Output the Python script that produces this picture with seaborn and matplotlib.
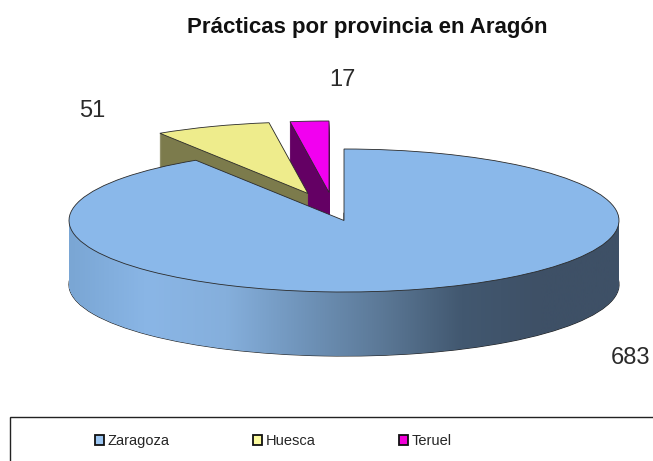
import numpy as np
import matplotlib
matplotlib.use("Agg")
import matplotlib.pyplot as plt
import matplotlib.patches as mpatches
from matplotlib.path import Path
import seaborn as sns

# ======= DATA =======
provinces = ["Zaragoza", "Huesca", "Teruel"]
practices = [683, 51, 17]
title = "Prácticas por provincia en Aragón"

top_colors = ["#8ab8ea", "#eeec8c", "#f200f0"]
side_colors = ["#6f8fb3", "#7c7b4c", "#640064"]
legend_colors = ["#9cc6f2", "#fbfa9e", "#f200d8"]
# left to right shading of the big slice wall
wall_colors = ["#7aa6d4", "#8ab6e6", "#85afdc", "#6f93b9", "#5b7896", "#425870", "#3e5066", "#3e5066"]

# pixel layout of the 3d look
W, H = 653, 461
squash = 71.5 / 275
depth = 64
pie_center = (344, 220.5)
pull_out = [(0, 0), (-36, -27), (-15, -28)]
label_pos = [(630, 358), (92, 111), (342, 80)]

sns.set_style("white")
plt.rcParams["font.family"] = ["Liberation Sans", "DejaVu Sans"]

fig = plt.figure(figsize=(W / 100, H / 100), dpi=100)
ax = fig.add_axes([0, 0, 1, 1])


def to_data(x, y):
    return x, (H - y) / squash


def draw_layer(drop):
    wedges, _ = ax.pie(
        practices,
        startangle=90,
        counterclock=False,
        radius=275,
        center=to_data(*pie_center),
    )
    for i, w in enumerate(wedges):
        dx, dy = pull_out[i]
        w.set_center(to_data(pie_center[0] + dx, pie_center[1] + dy + drop))
        w.set_zorder({0: 5, 1: 3, 2: 1}[i] + (0 if drop else 1))
    return wedges


# side walls, one pixel at a time from the bottom up
wall_paths = []
for drop in range(depth, 0, -1):
    wedges = draw_layer(drop)
    wall_paths.append(wedges[0].get_path())
    if drop == depth:
        wedges[0].set(facecolor="#222222", edgecolor="#222222", linewidth=0.8)
    else:
        wedges[0].set_visible(False)
    for i in (1, 2):
        wedges[i].set(facecolor=side_colors[i], edgecolor=side_colors[i], linewidth=0.3)

# wall of the big slice gets a horizontal gradient
wall_cmap = sns.blend_palette(wall_colors, as_cmap=True)
x0, x1 = pie_center[0] - 275, pie_center[0] + 275
wall = ax.imshow(
    np.linspace(0, 1, 256)[None, :],
    cmap=wall_cmap,
    extent=(x0, x1, 0, H / squash),
    aspect="auto",
    zorder=5.5,
)
wall.set_clip_path(Path.make_compound_path(*wall_paths), ax.transData)

# top faces
tops = draw_layer(0)
for i, w in enumerate(tops):
    w.set(facecolor=top_colors[i], edgecolor="#2a2a2a", linewidth=0.6)
tops[0].set_zorder(6)
tops[1].set_zorder(4)
tops[2].set_zorder(2)

ax.set_aspect("auto")
ax.set_xlim(0, W)
ax.set_ylim(0, H / squash)
ax.axis("off")

# value labels
for val, (lx, ly) in zip(practices, label_pos):
    fig.text(lx / W, 1 - ly / H, str(val), fontsize=17, ha="center", va="center", color="#2a2a2a")

fig.text(367 / W, 1 - 27 / H, title, fontsize=16, fontweight="bold", ha="center", va="center",
         color="#111111")

# legend, box runs off the picture on the right and bottom
frame = mpatches.Rectangle((10 / W, -0.05), 1, 1 - 417 / H + 0.05, transform=fig.transFigure,
                           facecolor="white", edgecolor="#222222", linewidth=1.0, clip_on=False)
fig.add_artist(frame)
handles = [mpatches.Patch(facecolor=c, edgecolor="#111111", linewidth=1.3, label=p)
           for c, p in zip(legend_colors, provinces)]
leg = fig.legend(
    handles=handles,
    loc="center left",
    bbox_to_anchor=(95 / W, 1 - 441 / H),
    ncol=3,
    frameon=False,
    fontsize=10.5,
    borderpad=0,
    borderaxespad=0,
    handlelength=0.62,
    handleheight=0.62,
    handletextpad=0.27,
    columnspacing=5.7,
)

fig.savefig("out.png", dpi=100)
